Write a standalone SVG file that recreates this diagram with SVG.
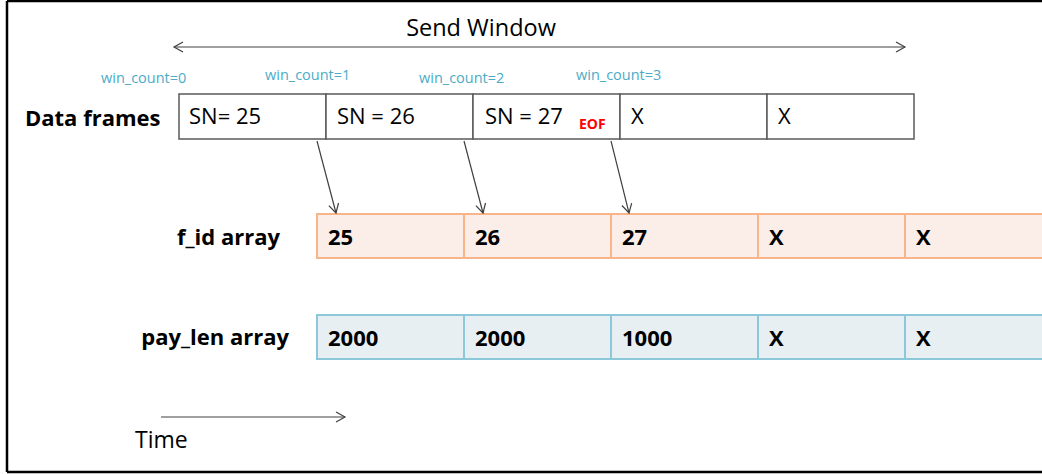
<svg xmlns="http://www.w3.org/2000/svg" width="1042" height="474" viewBox="0 0 1042 474">
  <style>
    .title { font-family: "Open Sans", "Liberation Sans", sans-serif; font-size: 23.5px; fill: #000; }
    .wc { font-family: "Open Sans", "Liberation Sans", sans-serif; font-size: 14.5px; fill: #4BACC6; }
    .lbl { font-family: "Open Sans", "Liberation Sans", sans-serif; font-size: 22px; font-weight: bold; fill: #000; }
    .sn { font-family: "Open Sans", "Liberation Sans", sans-serif; font-size: 22px; fill: #000; }
    .time { font-family: "Open Sans", "Liberation Sans", sans-serif; font-size: 23px; fill: #000; }
    .val { font-family: "Open Sans", "Liberation Sans", sans-serif; font-size: 22px; font-weight: bold; fill: #000; }
    .eof { font-family: "Open Sans", "Liberation Sans", sans-serif; font-size: 14px; font-weight: bold; fill: #FF0000; }
    .frame { fill: #fff; stroke: #595959; stroke-width: 1.5; }
    .fid { fill: #FBEEE8; stroke: #F8B58A; stroke-width: 2; }
    .pay { fill: #E8EFF3; stroke: #8CC8DA; stroke-width: 2; }
    .conn { fill: none; stroke: #404040; stroke-width: 1.2; }
  </style>
  <defs>
    <marker id="open" markerWidth="12" markerHeight="12" refX="10" refY="6" orient="auto-start-reverse" markerUnits="userSpaceOnUse">
      <path d="M1,1 L10,6 L1,11" fill="none" stroke="#404040" stroke-width="1.2"/>
    </marker>
  </defs>

  <rect width="1042" height="474" fill="#fff"/>
  <!-- outer frame: left, top and bottom edges -->
  <path d="M7,1 H1042 M7,1 V472 M7,472 H1042" fill="none" stroke="#000" stroke-width="2.5"/>

  <!-- send window span -->
  <g id="send-window">
    <text class="title" x="481" y="36" text-anchor="middle">Send Window</text>
    <line class="conn" x1="174" y1="47" x2="905" y2="47" marker-start="url(#open)" marker-end="url(#open)"/>
  </g>

  <!-- window counters -->
  <g id="win-counts">
    <text class="wc" x="101" y="83">win_count=0</text>
    <text class="wc" x="265" y="80">win_count=1</text>
    <text class="wc" x="419" y="83">win_count=2</text>
    <text class="wc" x="576" y="80">win_count=3</text>
  </g>

  <!-- data frames row -->
  <g id="data-frames">
    <text class="lbl" x="25" y="126">Data frames</text>
    <rect class="frame" x="179" y="94" width="147" height="45"/>
    <rect class="frame" x="326" y="94" width="147" height="45"/>
    <rect class="frame" x="473" y="94" width="147" height="45"/>
    <rect class="frame" x="620" y="94" width="147" height="45"/>
    <rect class="frame" x="767" y="94" width="147" height="45"/>
    <text class="sn" x="189" y="124">SN= 25</text>
    <text class="sn" x="337" y="124">SN = 26</text>
    <text class="sn" x="485" y="124">SN = 27</text>
    <text class="eof" x="579" y="129">EOF</text>
    <text class="sn" x="631" y="124">X</text>
    <text class="sn" x="778" y="124">X</text>
  </g>

  <!-- f_id array -->
  <g id="f-id-array">
    <text class="lbl" x="280" y="245" text-anchor="end">f_id array</text>
    <rect class="fid" x="317" y="214" width="147" height="44"/>
    <rect class="fid" x="464" y="214" width="147" height="44"/>
    <rect class="fid" x="611" y="214" width="147" height="44"/>
    <rect class="fid" x="758" y="214" width="147" height="44"/>
    <rect class="fid" x="905" y="214" width="147" height="44"/>
    <text class="val" x="328" y="245">25</text>
    <text class="val" x="475" y="245">26</text>
    <text class="val" x="622" y="245">27</text>
    <text class="val" x="769" y="245">X</text>
    <text class="val" x="916" y="245">X</text>
  </g>

  <!-- pay_len array -->
  <g id="pay-len-array">
    <text class="lbl" x="289" y="345" text-anchor="end">pay_len array</text>
    <rect class="pay" x="317" y="315" width="147" height="44"/>
    <rect class="pay" x="464" y="315" width="147" height="44"/>
    <rect class="pay" x="611" y="315" width="147" height="44"/>
    <rect class="pay" x="758" y="315" width="147" height="44"/>
    <rect class="pay" x="905" y="315" width="147" height="44"/>
    <text class="val" x="328" y="346">2000</text>
    <text class="val" x="475" y="346">2000</text>
    <text class="val" x="622" y="346">1000</text>
    <text class="val" x="769" y="346">X</text>
    <text class="val" x="916" y="346">X</text>
  </g>

  <!-- frame to f_id connectors -->
  <g id="connectors">
    <line class="conn" x1="317" y1="141" x2="336" y2="213" marker-end="url(#open)"/>
    <line class="conn" x1="464" y1="141" x2="483" y2="213" marker-end="url(#open)"/>
    <line class="conn" x1="611" y1="141" x2="629" y2="213" marker-end="url(#open)"/>
  </g>

  <!-- time axis -->
  <g id="time-axis">
    <line class="conn" x1="161" y1="417" x2="345" y2="417" marker-end="url(#open)"/>
    <text class="time" x="135" y="448">Time</text>
  </g>
</svg>
